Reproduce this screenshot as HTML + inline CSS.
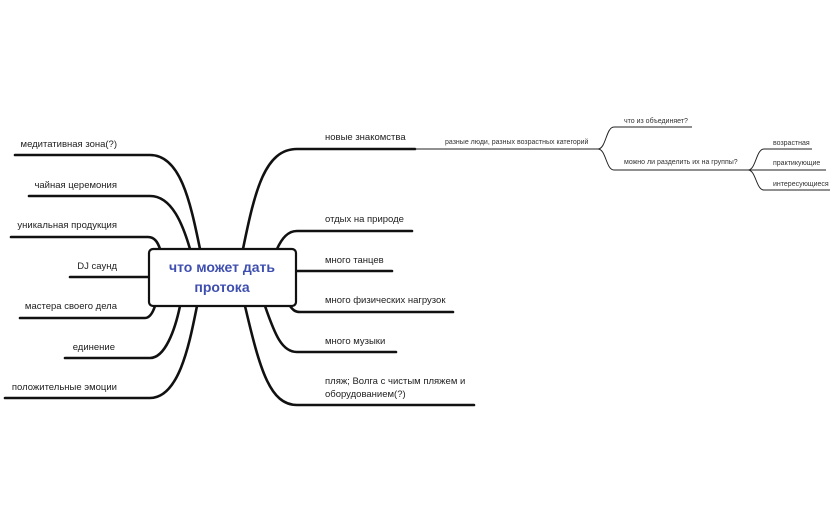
<!DOCTYPE html>
<html><head><meta charset="utf-8"><style>
body{margin:0;background:#fff}
svg{display:block;font-family:"Liberation Sans",sans-serif}
.m{font-size:9.5px;fill:#222}
.s{font-size:7px;fill:#333}
</style></head><body>
<svg width="838" height="519" viewBox="0 0 838 519">
<g fill="none" stroke="#111" stroke-width="2.6" stroke-linecap="round">
<path d="M15 155 H150 C180 155 190 200 200 249"/>
<path d="M29 196 H150 C172 196 183 225 190 249"/>
<path d="M11 237 H148 C155 237 158 243 160 249"/>
<path d="M70 277 H149"/>
<path d="M20 318 H145 C150 318 153 312 155 306"/>
<path d="M65 358 H150 C165 358 175 330 180 306"/>
<path d="M5 398 H150 C180 398 190 340 197 306"/>
<path d="M243 249 C255 190 265 149 297 149 H415"/>
<path d="M277 249 C282 238 288 231 297 231 H412"/>
<path d="M296 271 H392"/>
<path d="M290 306 C293 310 295 312 300 312 H453"/>
<path d="M265 306 C275 335 282 352 297 352 H396"/>
<path d="M245 306 C260 370 270 405 297 405 H474"/>
</g>
<g fill="none" stroke="#222" stroke-width="1">
<path d="M415 149 H598"/>
<path d="M598 149 C606 149 606 127 614 127 H692"/>
<path d="M598 149 C606 149 606 170 614 170 H748"/>
<path d="M748 170 C756 170 756 149 764 149 H812"/>
<path d="M748 170 H826"/>
<path d="M748 170 C756 170 756 190 764 190 H830"/>
</g>
<rect x="149" y="249" width="147" height="57" rx="4" fill="#fff" stroke="#111" stroke-width="2.2"/>
<text x="222" y="272" text-anchor="middle" font-size="14" font-weight="bold" fill="#3f4fb0">что может дать</text>
<text x="222" y="292" text-anchor="middle" font-size="14" font-weight="bold" fill="#3f4fb0">протока</text>
<g class="m" text-anchor="end">
<text x="117" y="147">медитативная зона(?)</text>
<text x="117" y="188">чайная церемония</text>
<text x="117" y="228">уникальная продукция</text>
<text x="117" y="269">DJ саунд</text>
<text x="117" y="309">мастера своего дела</text>
<text x="115" y="350">единение</text>
<text x="117" y="390">положительные эмоции</text>
</g>
<g class="m">
<text x="325" y="140">новые знакомства</text>
<text x="325" y="222">отдых на природе</text>
<text x="325" y="263">много танцев</text>
<text x="325" y="303">много физических нагрузок</text>
<text x="325" y="344">много музыки</text>
<text x="325" y="384">пляж; Волга с чистым пляжем и</text>
<text x="325" y="397">оборудованием(?)</text>
</g>
<g class="s">
<text x="445" y="144">разные люди, разных возрастных категорий</text>
<text x="624" y="123">что из объединяет?</text>
<text x="624" y="164">можно ли разделить их на группы?</text>
<text x="773" y="145">возрастная</text>
<text x="773" y="165">практикующие</text>
<text x="773" y="186">интересующиеся</text>
</g>
</svg>
</body></html>
